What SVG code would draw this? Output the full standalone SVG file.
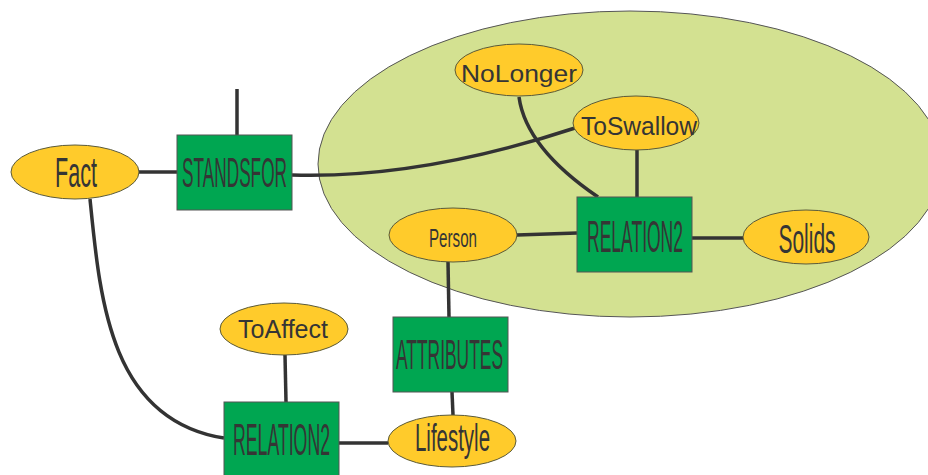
<svg xmlns="http://www.w3.org/2000/svg" width="928" height="475" viewBox="0 0 928 475">
  <style>
    .ent { fill: #FFCB2B; stroke: #5a5a3a; stroke-width: 1; }
    .rel { fill: #00A651; stroke: #555; stroke-width: 1; }
    .ctx { fill: #D3E191; stroke: #555; stroke-width: 1; }
    .lbl { font-family: "Liberation Sans", Arial, sans-serif; fill: #353535; text-anchor: middle; }
    .edge { fill: none; stroke: #333; stroke-width: 3.5; }
  </style>
  <rect width="928" height="475" fill="#ffffff"/>

  <!-- context ellipse -->
  <g id="context">
    <ellipse class="ctx" cx="630" cy="164" rx="312" ry="153"/>
  </g>

  <!-- connectors -->
  <g id="edges">
    <line class="edge" x1="237" y1="89" x2="237" y2="135"/>
    <line class="edge" x1="139" y1="172" x2="177" y2="172"/>
    <path class="edge" d="M292,175 Q420,179 575,128"/>
    <path class="edge" d="M519,97 Q526,148 598,197"/>
    <line class="edge" x1="637" y1="150" x2="637" y2="197"/>
    <line class="edge" x1="517" y1="235" x2="577" y2="233"/>
    <line class="edge" x1="692" y1="238" x2="743" y2="238"/>
    <line class="edge" x1="448" y1="262" x2="449" y2="317"/>
    <line class="edge" x1="452" y1="392" x2="453" y2="415"/>
    <line class="edge" x1="285" y1="355" x2="286" y2="402"/>
    <line class="edge" x1="338" y1="443" x2="388" y2="443"/>
    <path class="edge" d="M90,199 C100,300 110,420 224,438"/>
  </g>

  <g id="fact">
    <ellipse class="ent" cx="75" cy="172" rx="64" ry="27"/>
    <text class="lbl" x="76" y="187" font-size="42" textLength="42" lengthAdjust="spacingAndGlyphs">Fact</text>
  </g>

  <g id="standsfor">
    <rect class="rel" x="177" y="135" width="115" height="75"/>
    <text class="lbl" x="234.5" y="187" font-size="42" textLength="105" lengthAdjust="spacingAndGlyphs">STANDSFOR</text>
  </g>

  <g id="nolonger">
    <ellipse class="ent" cx="519" cy="70" rx="64" ry="26"/>
    <text class="lbl" x="519" y="82" font-size="24" textLength="116" lengthAdjust="spacingAndGlyphs">NoLonger</text>
  </g>

  <g id="toswallow">
    <ellipse class="ent" cx="636" cy="123" rx="63" ry="27"/>
    <text class="lbl" x="639" y="135" font-size="25" textLength="116" lengthAdjust="spacingAndGlyphs">ToSwallow</text>
  </g>

  <g id="relation2-upper">
    <rect class="rel" x="577" y="197" width="115" height="75"/>
    <text class="lbl" x="635" y="252" font-size="45" textLength="96" lengthAdjust="spacingAndGlyphs">RELATION2</text>
  </g>

  <g id="person">
    <ellipse class="ent" cx="453" cy="235" rx="64" ry="27"/>
    <text class="lbl" x="453" y="247" font-size="25" textLength="48" lengthAdjust="spacingAndGlyphs">Person</text>
  </g>

  <g id="solids">
    <ellipse class="ent" cx="806" cy="237" rx="63" ry="27"/>
    <text class="lbl" x="807" y="253" font-size="40" textLength="57" lengthAdjust="spacingAndGlyphs">Solids</text>
  </g>

  <g id="attributes">
    <rect class="rel" x="393" y="317" width="115" height="75"/>
    <text class="lbl" x="449.5" y="369" font-size="43" textLength="107" lengthAdjust="spacingAndGlyphs">ATTRIBUTES</text>
  </g>

  <g id="toaffect">
    <ellipse class="ent" cx="284" cy="329" rx="64" ry="26"/>
    <text class="lbl" x="283" y="338" font-size="26" textLength="90" lengthAdjust="spacingAndGlyphs">ToAffect</text>
  </g>

  <g id="relation2-lower">
    <rect class="rel" x="224" y="402" width="115" height="75"/>
    <text class="lbl" x="281.5" y="455" font-size="44" textLength="97" lengthAdjust="spacingAndGlyphs">RELATION2</text>
  </g>

  <g id="lifestyle">
    <ellipse class="ent" cx="452" cy="441" rx="64" ry="26"/>
    <text class="lbl" x="452.5" y="451" font-size="39" textLength="75" lengthAdjust="spacingAndGlyphs">Lifestyle</text>
  </g>
</svg>
